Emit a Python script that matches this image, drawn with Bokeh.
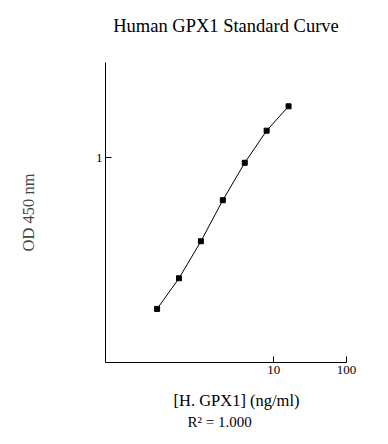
from bokeh.plotting import figure
from bokeh.models import Range1d, FixedTicker, Title, LogAxis
from bokeh.embed import file_html
from bokeh.resources import INLINE

# Data (concentration ng/ml, OD 450 nm)
conc = [0.25, 0.5, 1, 2, 4, 8, 16]
od = [0.209, 0.287, 0.421, 0.644, 0.949, 1.323, 1.703]
x_ticks = [10, 100]
y_ticks = [1]

title_text = "Human GPX1 Standard Curve"
x_label_text = "[H. GPX1] (ng/ml)"
r2_text = "R\u00b2 = 1.000"
y_label_text = "OD 450 nm"

FONT = "Liberation Serif"


def spacer_axis(size):
    # blank axis (white tick on white border, no label) that only reserves space
    return LogAxis(ticker=FixedTicker(ticks=[1]), axis_line_color=None,
                   major_tick_line_color="white", minor_tick_line_color=None,
                   major_tick_in=0, major_tick_out=size, major_label_standoff=0,
                   major_label_overrides={1: ""},
                   major_label_text_font_size="0px")


p = figure(width=372, height=436, x_axis_type="log", y_axis_type="log",
           x_range=Range1d(0.0489, 100), y_range=Range1d(0.12, 2.68),
           output_backend="svg", toolbar_location=None, title=None,
           min_border_left=105, min_border_right=26, min_border_top=62, min_border_bottom=74)

p.grid.visible = False
p.outline_line_color = None
p.background_fill_color = "white"
p.border_fill_color = "white"

for ax in (p.xaxis[0], p.yaxis[0]):
    ax.axis_line_color = "black"
    ax.axis_line_width = 1
    ax.major_tick_line_color = "black"
    ax.major_tick_in = 6
    ax.major_tick_out = 0
    ax.minor_tick_line_color = None
    ax.major_label_text_font = FONT
    ax.major_label_text_font_size = "13px"
    ax.major_label_text_color = "black"

p.xaxis[0].ticker = FixedTicker(ticks=x_ticks)
p.xaxis[0].major_label_overrides = {t: str(t) for t in x_ticks}
p.xaxis[0].major_label_standoff = 3

p.yaxis[0].ticker = FixedTicker(ticks=y_ticks)
p.yaxis[0].major_label_overrides = {t: str(t) for t in y_ticks}
p.yaxis[0].major_label_standoff = 3
p.yaxis[0].axis_label = y_label_text
p.yaxis[0].axis_label_text_font = FONT
p.yaxis[0].axis_label_text_font_size = "16.5px"
p.yaxis[0].axis_label_text_font_style = "normal"
p.yaxis[0].axis_label_text_color = "#444444"
p.yaxis[0].axis_label_standoff = 55

p.line(conc, od, line_color="black", line_width=1)
p.scatter(conc, od, marker="square", size=5, fill_color="black", line_color="black")

# above panel: spacer nearest the frame, title outside it
p.add_layout(spacer_axis(27), "above")
ttl = Title(text=title_text, align="center", vertical_align="bottom", standoff=0,
            text_font=FONT, text_font_size="18.5px", text_font_style="normal",
            text_color="black")
p.add_layout(ttl, "above")

xl = Title(text=x_label_text, align="left", offset=68, standoff=0,
           vertical_align="bottom",
           text_font=FONT, text_font_size="16.5px", text_font_style="normal",
           text_color="black")
r2 = Title(text=r2_text, align="left", offset=82, standoff=4.5,
           vertical_align="bottom",
           text_font=FONT, text_font_size="15px", text_font_style="normal",
           text_color="black")
p.add_layout(spacer_axis(12), "below")
p.add_layout(xl, "below")
p.add_layout(r2, "below")

open("out.html", "w").write(file_html(p, INLINE))
